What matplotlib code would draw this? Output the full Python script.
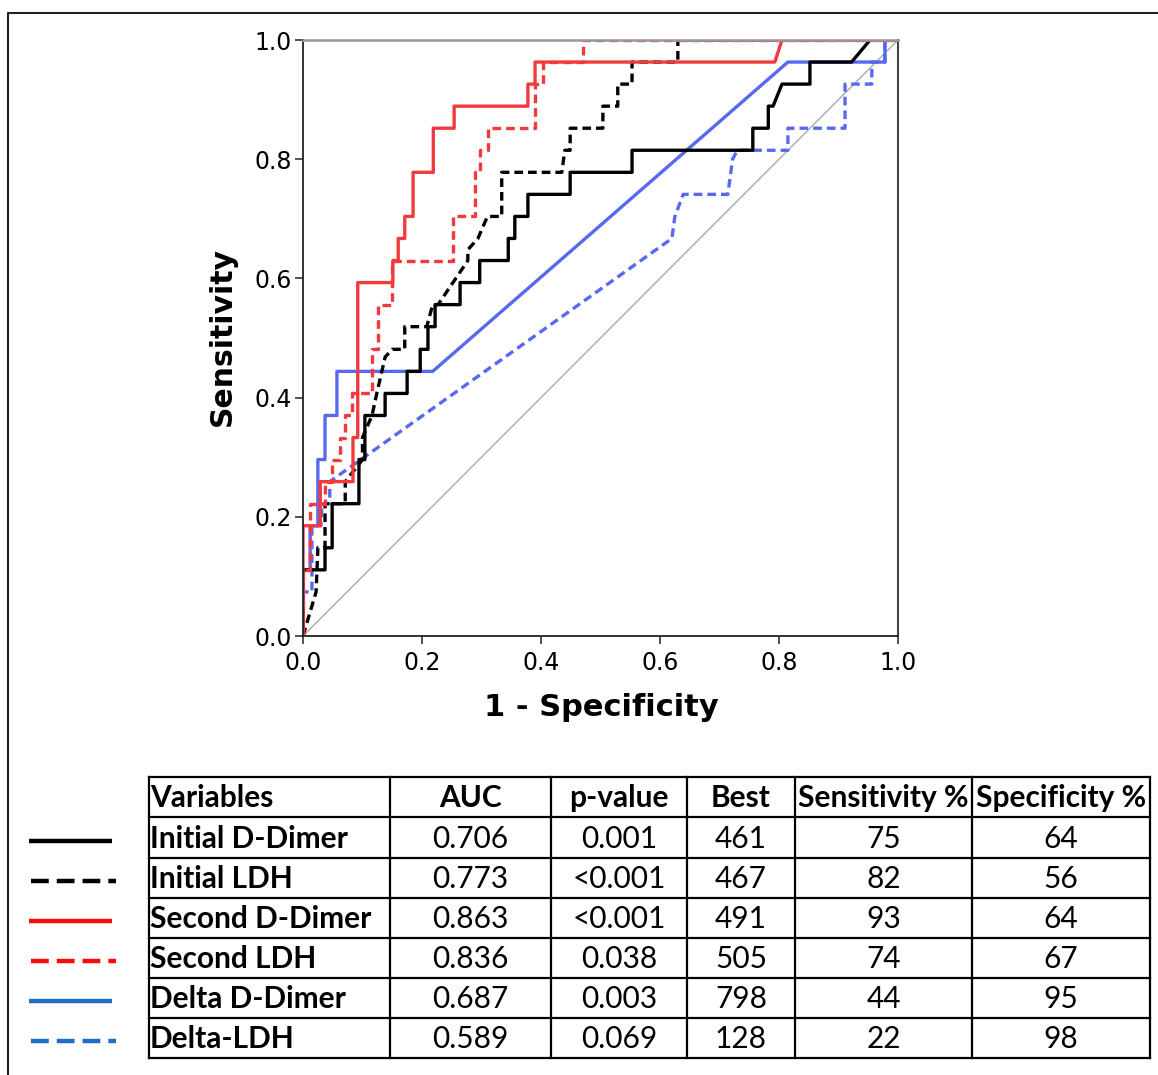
import matplotlib
matplotlib.use('Agg')
import matplotlib.pyplot as plt

# ROC curves: vertices of (1 - specificity, sensitivity)
init_dd_x = [0, 0, 0.037, 0.037, 0.049, 0.049, 0.094, 0.094, 0.104, 0.104, 0.138, 0.138,
             0.175, 0.175, 0.197, 0.197, 0.21, 0.21, 0.222, 0.222, 0.264, 0.264, 0.297,
             0.297, 0.345, 0.345, 0.356, 0.356, 0.378, 0.378, 0.449, 0.449, 0.553, 0.553,
             0.756, 0.756, 0.782, 0.782, 0.79, 0.805, 0.852, 0.852, 0.922, 0.953, 1]
init_dd_y = [0, 0.111, 0.111, 0.148, 0.148, 0.222, 0.222, 0.296, 0.296, 0.37, 0.37, 0.407,
             0.407, 0.444, 0.444, 0.481, 0.481, 0.519, 0.519, 0.556, 0.556, 0.593, 0.593,
             0.63, 0.63, 0.667, 0.667, 0.704, 0.704, 0.741, 0.741, 0.778, 0.778, 0.815,
             0.815, 0.852, 0.852, 0.889, 0.889, 0.926, 0.926, 0.963, 0.963, 1, 1]

init_ldh_x = [0, 0.022, 0.025, 0.037, 0.037, 0.071, 0.071, 0.1, 0.1, 0.116, 0.124, 0.138,
              0.15, 0.171, 0.171, 0.208, 0.218, 0.227, 0.252, 0.277, 0.277, 0.294, 0.31,
              0.334, 0.334, 0.435, 0.44, 0.449, 0.449, 0.504, 0.504, 0.529, 0.529, 0.553,
              0.553, 0.63, 0.63, 1]
init_ldh_y = [0, 0.074, 0.148, 0.148, 0.222, 0.222, 0.259, 0.296, 0.333, 0.37, 0.407, 0.468,
              0.481, 0.481, 0.519, 0.519, 0.556, 0.556, 0.593, 0.63, 0.648, 0.667, 0.704,
              0.704, 0.778, 0.778, 0.815, 0.815, 0.852, 0.852, 0.889, 0.889, 0.926, 0.926,
              0.963, 0.963, 1, 1]

sec_dd_x = [0, 0, 0.029, 0.029, 0.084, 0.084, 0.092, 0.092, 0.151, 0.151, 0.16, 0.16, 0.171,
            0.171, 0.185, 0.185, 0.219, 0.219, 0.254, 0.254, 0.378, 0.378, 0.39, 0.39,
            0.793, 0.805, 1]
sec_dd_y = [0, 0.185, 0.185, 0.259, 0.259, 0.333, 0.333, 0.593, 0.593, 0.63, 0.63, 0.667,
            0.667, 0.704, 0.704, 0.778, 0.778, 0.852, 0.852, 0.889, 0.889, 0.926, 0.926,
            0.963, 0.963, 1, 1]

sec_ldh_x = [0, 0, 0.012, 0.012, 0.037, 0.037, 0.049, 0.049, 0.062, 0.062, 0.071, 0.071,
             0.083, 0.083, 0.116, 0.116, 0.126, 0.126, 0.15, 0.15, 0.252, 0.252, 0.289,
             0.289, 0.297, 0.297, 0.311, 0.311, 0.39, 0.39, 0.403, 0.403, 0.471, 0.471, 1]
sec_ldh_y = [0, 0.111, 0.111, 0.222, 0.222, 0.259, 0.259, 0.296, 0.296, 0.333, 0.333, 0.37,
             0.37, 0.407, 0.407, 0.481, 0.481, 0.556, 0.556, 0.63, 0.63, 0.704, 0.704,
             0.778, 0.778, 0.815, 0.815, 0.852, 0.852, 0.926, 0.926, 0.963, 0.963, 1, 1]

delta_dd_x = [0, 0, 0.012, 0.012, 0.025, 0.025, 0.037, 0.037, 0.057, 0.057, 0.218, 0.815,
              0.978, 0.978, 1]
delta_dd_y = [0, 0.111, 0.111, 0.185, 0.185, 0.296, 0.296, 0.37, 0.37, 0.444, 0.444, 0.963,
              0.963, 1, 1]

delta_ldh_x = [0, 0, 0.015, 0.015, 0.03, 0.032, 0.045, 0.045, 0.62, 0.625, 0.639, 0.714,
               0.722, 0.73, 0.815, 0.815, 0.911, 0.911, 0.956, 0.956, 0.978, 0.978, 1]
delta_ldh_y = [0, 0.074, 0.074, 0.185, 0.185, 0.222, 0.222, 0.259, 0.667, 0.704, 0.741,
               0.741, 0.8, 0.815, 0.815, 0.852, 0.852, 0.926, 0.926, 0.963, 0.963, 1, 1]

# table
col_labels = ["Variables", "AUC", "p-value", "Best", "Sensitivity %", "Specificity %"]
variables = ["Initial D-Dimer", "Initial LDH", "Second D-Dimer", "Second LDH",
             "Delta D-Dimer", "Delta-LDH"]
auc = ["0.706", "0.773", "0.863", "0.836", "0.687", "0.589"]
p_values = ["0.001", "<0.001", "<0.001", "0.038", "0.003", "0.069"]
best = ["461", "467", "491", "505", "798", "128"]
sensitivity = ["75", "82", "93", "74", "44", "22"]
specificity = ["64", "56", "64", "67", "95", "98"]

RED = '#f23a3e'
BLUE = '#5869f0'

W, H = 1158, 1075
fig = plt.figure(figsize=(W / 100, H / 100), dpi=100)

# background layer in pixel coords: frame, table and legend lines
bg = fig.add_axes([0, 0, 1, 1])
bg.set_xlim(0, W)
bg.set_ylim(H, 0)
bg.axis('off')
bg.plot([8, 8, W], [H, 13, 13], color='#222222', lw=1.5)

col_edges = [149, 390, 551, 687, 795, 972, 1150]
row_edges = [777, 817, 858, 898, 938, 978, 1018, 1058]
for xe in col_edges:
    bg.plot([xe, xe], [row_edges[0], row_edges[-1]], color='black', lw=1.6)
for ye in row_edges:
    bg.plot([col_edges[0], col_edges[-1]], [ye, ye], color='black', lw=1.6)

tfont = ['Lato', 'DejaVu Sans']
fs = 21.5
rows = [variables, auc, p_values, best, sensitivity, specificity]
for j, lab in enumerate(col_labels):
    yc = (row_edges[0] + row_edges[1]) / 2 + 1
    if j == 0:
        bg.text(col_edges[0] + 1, yc, lab, ha='left', va='center', fontsize=fs,
                fontweight='bold', family=tfont)
    else:
        bg.text((col_edges[j] + col_edges[j + 1]) / 2, yc, lab, ha='center', va='center',
                fontsize=fs, fontweight='bold', family=tfont)
for i in range(len(variables)):
    yc = (row_edges[i + 1] + row_edges[i + 2]) / 2 + 1
    bg.text(col_edges[0] + 1, yc, variables[i], ha='left', va='center', fontsize=fs,
            fontweight='bold', family=tfont)
    for j in range(1, 6):
        bg.text((col_edges[j] + col_edges[j + 1]) / 2, yc, rows[j][i], ha='center',
                va='center', fontsize=fs, family=tfont)

leg_styles = [('black', '-'), ('black', '--'), ('#f70c0c', '-'), ('#f70c0c', '--'),
              ('#1f6fc4', '-'), ('#1f6fc4', '--')]
for i, (c, ls) in enumerate(leg_styles):
    yc = (row_edges[i + 1] + row_edges[i + 2]) / 2 + 3
    if ls == '-':
        bg.plot([29, 112], [yc, yc], color=c, lw=3.2, solid_capstyle='butt')
    else:
        bg.plot([31, 116], [yc, yc], color=c, lw=3.2, dashes=(4.0, 1.8),
                dash_capstyle='butt')

# ROC axes
ax = fig.add_axes([303 / W, 1 - 636 / H, 595 / W, 596 / H])
ax.plot([0, 1], [0, 1], color='#aaaaaa', lw=1)
ax.plot(delta_ldh_x, delta_ldh_y, color=BLUE, lw=2.4, dashes=(2.6, 1.5))
ax.plot(delta_dd_x, delta_dd_y, color=BLUE, lw=2.4)
ax.plot(init_ldh_x, init_ldh_y, color='black', lw=2.4, dashes=(2.6, 1.5))
ax.plot(init_dd_x, init_dd_y, color='black', lw=2.4)
ax.plot(sec_ldh_x, sec_ldh_y, color=RED, lw=2.4, dashes=(2.6, 1.5))
ax.plot(sec_dd_x, sec_dd_y, color=RED, lw=2.4)

ax.set_xlim(0, 1)
ax.set_ylim(0, 1)
ticks = [0.0, 0.2, 0.4, 0.6, 0.8, 1.0]
ax.set_xticks(ticks)
ax.set_yticks(ticks)
ax.set_xticklabels(['%.1f' % t for t in ticks])
ax.set_yticklabels(['%.1f' % t for t in ticks])
ax.tick_params(length=6, width=1.2, labelsize=17, color='#333333')
ax.tick_params(axis='x', pad=5)
ax.tick_params(axis='y', pad=2)
for s in ['left', 'bottom']:
    ax.spines[s].set_color('#222222')
    ax.spines[s].set_linewidth(1.3)
ax.spines['top'].set_color('#999999')
ax.spines['top'].set_linewidth(1.8)
ax.spines['right'].set_color('#444444')
ax.spines['right'].set_linewidth(1.5)

fig.text(222 / W, 1 - 337 / H, 'Sensitivity', rotation=90, ha='center', va='center',
         fontsize=21.5, fontweight='bold')
fig.text(601 / W, 1 - 707 / H, '1 - Specificity', ha='center', va='center',
         fontsize=22, fontweight='bold')

fig.savefig('out.png', dpi=100)
